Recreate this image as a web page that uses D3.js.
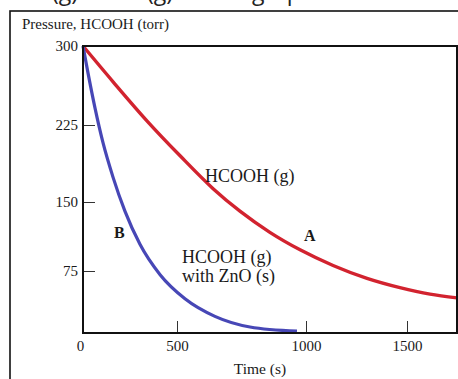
<!DOCTYPE html>
<html>
<head>
<meta charset="utf-8">
<script src="https://cdn.jsdelivr.net/npm/d3@7"></script>
<style>
  html, body { margin: 0; padding: 0; background: #fff; }
  svg { display: block; }
  text { font-family: "Liberation Serif", "Times New Roman", serif; fill: #1a1a1a; }
</style>
</head>
<body>
<svg id="chart" width="458" height="379"></svg>
<script>
// Axis ticks
const timeTicks = [0, 500, 1000, 1500];
const pressureTicks = [75, 150, 225, 300];

// Curve A: HCOOH (g) alone
const timeA = [0, 160, 340, 512, 640, 744, 860, 977, 1134, 1302, 1465, 1614, 1748];
const pressureA = [300, 266, 229, 195, 163, 140, 117, 98, 81, 67, 57, 50, 46];

// Curve B: HCOOH (g) with ZnO (s)
const timeB = [0, 27, 64, 106, 160, 223, 303, 410, 531, 647, 783, 965];
const pressureB = [300, 274, 241, 208, 174, 140, 104, 71, 45, 26, 14.5, 10];

const svg = d3.select("#chart");

// Heading line running above the figure frame
const heading = svg.append("text")
  .attr("y", 0)
  .style("font-family", "'Open Sans', 'DejaVu Sans', sans-serif")
  .style("font-size", "23px")
  .style("fill", "#222");
heading.append("tspan").attr("x", 78).attr("text-anchor", "end").text("HCOOH(g)");
heading.append("tspan").attr("x", 173).attr("text-anchor", "end").text("→ CO(g)");
heading.append("tspan").attr("x", 252).attr("text-anchor", "start").text("graph");

// Figure frame
svg.append("rect")
  .attr("x", 10).attr("y", 11)
  .attr("width", 470).attr("height", 390)
  .attr("fill", "none")
  .attr("stroke", "#111")
  .attr("stroke-width", 1.6);

// Scales
const x = d3.scaleLinear()
  .domain([0, 500, 1000, 1500, 1748])
  .range([83, 177, 306, 407, 457]);
const y = d3.scaleLinear()
  .domain([8, 75, 150, 225, 300])
  .range([333, 271, 202, 125, 46]);

const xMin = 0, xMax = 1748, yMin = 8, yMax = 300;

function styleTicks(g) {
  g.attr("font-family", "Liberation Serif, serif").attr("font-size", 15);
  g.select(".domain").remove();
  g.selectAll(".tick line").attr("stroke", "#333").attr("stroke-width", 1);
  g.selectAll(".tick text")
    .attr("fill", "#1a1a1a")
    .style("font-size", "15px")
    .style("font-family", "'Liberation Serif', serif");
}

// Y axis (ticks pointing inward)
const yAxis = svg.append("g")
  .attr("transform", `translate(${x(xMin)},0)`)
  .call(d3.axisLeft(y).tickValues(pressureTicks).tickFormat(d3.format("d"))
    .tickSizeInner(-12).tickSizeOuter(0).tickPadding(5));
styleTicks(yAxis);

// X axis (ticks pointing inward)
const xAxis = svg.append("g")
  .attr("transform", `translate(0,${y(yMin)})`)
  .call(d3.axisBottom(x).tickValues(timeTicks).tickFormat(d3.format("d"))
    .tickSizeInner(-12).tickSizeOuter(0).tickPadding(7));
styleTicks(xAxis);
xAxis.selectAll(".tick").filter(d => d === 0).select("text").attr("x", -3);

// Curves
const line = d3.line().curve(d3.curveMonotoneX);
const ptsA = timeA.map((t, i) => [x(t), y(pressureA[i])]);
const ptsB = timeB.map((t, i) => [x(t), y(pressureB[i])]);

svg.append("path")
  .attr("d", line(ptsA))
  .attr("fill", "none")
  .attr("stroke", "#d2232f")
  .attr("stroke-width", 3.4);

svg.append("path")
  .attr("d", line(ptsB))
  .attr("fill", "none")
  .attr("stroke", "#4747b6")
  .attr("stroke-width", 3.2);

// Plot frame
svg.append("rect")
  .attr("x", x(xMin)).attr("y", y(yMax))
  .attr("width", x(xMax) - x(xMin))
  .attr("height", y(yMin) - y(yMax))
  .attr("fill", "none")
  .attr("stroke", "#111")
  .attr("stroke-width", 2);

// Axis titles
svg.append("text")
  .attr("x", 22).attr("y", 29)
  .style("font-size", "15px")
  .text("Pressure, HCOOH (torr)");

svg.append("text")
  .attr("x", 260).attr("y", 374)
  .attr("text-anchor", "middle")
  .style("font-size", "15.5px")
  .text("Time (s)");

// Curve annotations
svg.append("text")
  .attr("x", 205).attr("y", 182)
  .style("font-size", "18px")
  .text("HCOOH (g)");

const noteB = svg.append("text")
  .attr("x", 182).attr("y", 263)
  .style("font-size", "18px");
noteB.append("tspan").attr("x", 182).text("HCOOH (g)");
noteB.append("tspan").attr("x", 182).attr("dy", 19).text("with ZnO (s)");

svg.append("text")
  .attr("x", 304).attr("y", 241)
  .style("font-size", "16px")
  .style("font-weight", "bold")
  .text("A");

svg.append("text")
  .attr("x", 114).attr("y", 238)
  .style("font-size", "16px")
  .style("font-weight", "bold")
  .text("B");
</script>
</body>
</html>
